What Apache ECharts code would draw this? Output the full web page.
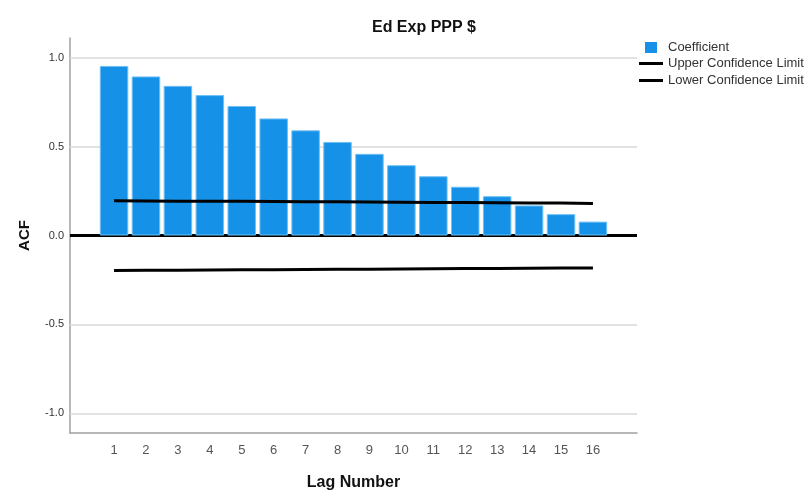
<!DOCTYPE html>
<html>
<head>
<meta charset="utf-8">
<script src="https://cdn.jsdelivr.net/npm/echarts@6/dist/echarts.min.js"></script>
<style>html,body{margin:0;padding:0;background:#fff}#c{width:809px;height:496px}</style>
</head>
<body>
<div id="c"></div>
<script>
var lags = [1,2,3,4,5,6,7,8,9,10,11,12,13,14,15,16];
var coefficient = [0.953,0.894,0.841,0.789,0.728,0.658,0.591,0.526,0.459,0.395,0.333,0.274,0.221,0.169,0.120,0.078];
var upperLimit = [0.195,0.194,0.193,0.193,0.192,0.191,0.190,0.189,0.188,0.187,0.186,0.185,0.184,0.183,0.182,0.180];
var lowerLimit = [-0.197,-0.196,-0.195,-0.194,-0.193,-0.192,-0.191,-0.190,-0.189,-0.188,-0.187,-0.186,-0.185,-0.184,-0.183,-0.182];
var yTicks = [-1.0,-0.5,0.0,0.5,1.0];
var gridValues = [-1.0,-0.5,0.5,1.0];

function pairs(v){ return lags.map(function(l,i){ return [l, v[i]]; }); }

var chart = echarts.init(document.getElementById('c'), null, {renderer:'canvas'});
var font = '"Liberation Sans", Arial, sans-serif';
chart.setOption({
  animation:false,
  backgroundColor:'#fff',
  textStyle:{fontFamily:font},
  title:{text:'Ed Exp PPP $', left:419, top:15, textAlign:'center',
    textStyle:{fontSize:16, fontWeight:'bold', color:'#111', fontFamily:font}},
  legend:[
    {data:['Coefficient'], left:645, top:41, padding:0, orient:'vertical', itemWidth:12, itemHeight:11,
     icon:'rect', itemStyle:{borderWidth:0}, textStyle:{fontSize:13, color:'#333', padding:[0,0,0,6]}},
    {data:['Upper Confidence Limit','Lower Confidence Limit'], left:639, top:57, padding:0, orient:'vertical',
     itemWidth:24, itemHeight:3, itemGap:4, icon:'rect', textStyle:{fontSize:13, color:'#333'}}
  ],
  grid:{left:70, right:172, top:38, bottom:62},
  xAxis:{type:'value', min:-0.38, max:17.38,
    name:'Lag Number', nameLocation:'middle', nameGap:42,
    nameTextStyle:{fontSize:16, fontWeight:'bold', color:'#111'},
    axisLine:{onZero:false, lineStyle:{color:'#a0a0a0', width:1.5}},
    axisTick:{show:false},
    splitLine:{show:false},
    axisLabel:{customValues:lags, margin:11, fontSize:13, color:'#555', formatter:function(v){return String(v);}}
  },
  yAxis:{type:'value', min:-1.11, max:1.11,
    name:'ACF', nameLocation:'middle', nameGap:38,
    nameTextStyle:{fontSize:15, fontWeight:'bold', color:'#111'},
    axisLine:{show:true, onZero:false, lineStyle:{color:'#a0a0a0', width:1.5}},
    axisTick:{show:false},
    splitLine:{show:false},
    axisLabel:{customValues:yTicks, margin:6, fontSize:11, color:'#333', formatter:function(v){return v.toFixed(1);}}
  },
  series:[
    {name:'Coefficient', type:'bar', data:pairs(coefficient), barWidth:28.5,
     itemStyle:{color:'#1592e8', borderColor:'#6fc0f5', borderWidth:1},
     z:3,
     markLine:{silent:true, symbol:'none', label:{show:false}, animation:false,
       data: gridValues.map(function(v){ return {yAxis:v, lineStyle:{color:'#d9d9d9', width:1.5, type:'solid'}}; })
         .concat([{yAxis:0, lineStyle:{color:'#000', width:3, type:'solid'}}]),
       z:2
     }
    },
    {name:'Upper Confidence Limit', type:'line', data:pairs(upperLimit), symbol:'none',
     lineStyle:{color:'#000', width:3}, itemStyle:{color:'#000'}, z:5},
    {name:'Lower Confidence Limit', type:'line', data:pairs(lowerLimit), symbol:'none',
     lineStyle:{color:'#000', width:3}, itemStyle:{color:'#000'}, z:5}
  ]
});
</script>
</body>
</html>
